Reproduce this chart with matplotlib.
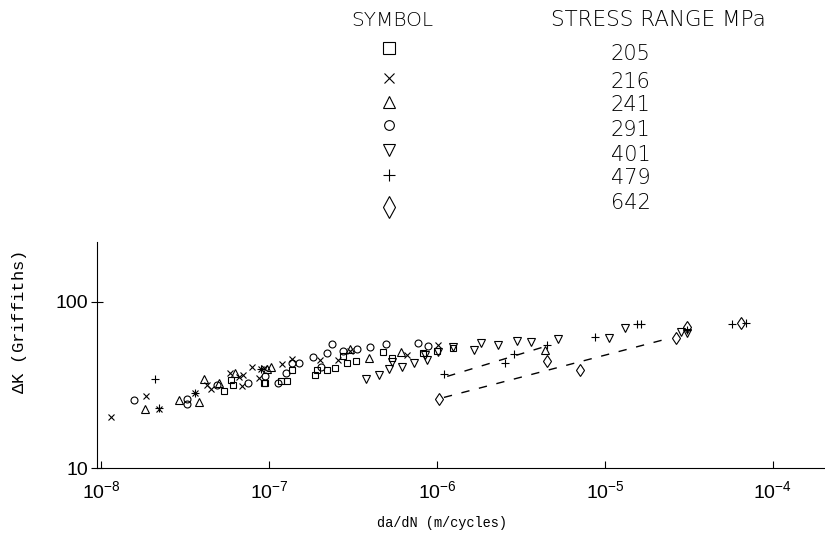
import matplotlib
matplotlib.use("Agg")
import matplotlib.pyplot as plt

plt.rcParams['mathtext.fontset'] = 'custom'
plt.rcParams['mathtext.rm'] = 'Liberation Sans'
plt.rcParams['mathtext.default'] = 'regular'

# stress range (MPa) and the symbol used for it
stress = ['205', '216', '241', '291', '401', '479', '642']
markers = ['s', 'x', '^', 'o', 'v', '+', 'd']

# da/dN (m/cycle), delta K (Griffiths)
dadn_205 = [5.4e-8, 5.94e-8, 6.1e-8, 9.3e-8, 9.5e-8, 1.18e-7, 1.28e-7, 1.37e-7, 1.93e-7,
            1.88e-7, 2.21e-7, 2.47e-7, 2.91e-7, 3.30e-7, 2.76e-7, 4.77e-7, 5.40e-7,
            8.26e-7, 1.0e-6, 1.25e-6]
dk_205 = [28.9, 33.7, 31.8, 32.7, 32.3, 33.2, 33.2, 38.7, 38.7,
          36.1, 38.7, 39.8, 42.7, 43.9, 47.1, 49.8, 45.8,
          49.1, 50.5, 52.6]

dadn_216 = [1.15e-8, 1.85e-8, 2.21e-8, 3.63e-8, 4.28e-8, 4.52e-8, 5.86e-8, 6.63e-8, 7.0e-8,
            6.9e-8, 7.9e-8, 8.96e-8, 8.7e-8, 9.3e-8, 1.19e-7, 1.37e-7, 2.01e-7, 2.58e-7,
            3.03e-7, 6.63e-7, 1.01e-6]
dk_216 = [20.4, 27.3, 22.8, 28.1, 31.4, 29.7, 37.2, 35.1, 36.1,
          31.0, 40.4, 39.3, 34.6, 39.8, 42.1, 45.1, 44.5, 44.5,
          50.5, 47.7, 54.9]

dadn_241 = [1.83e-8, 2.91e-8, 3.83e-8, 4.1e-8, 5.04e-8, 6.28e-8, 9.7e-8, 1.03e-7,
            3.03e-7, 3.94e-7, 6.1e-7, 4.40e-6]
dk_241 = [22.8, 25.5, 25.1, 34.1, 32.3, 37.2, 39.3, 40.4,
          51.9, 45.8, 49.8, 51.2]

dadn_291 = [1.57e-8, 3.25e-8, 3.25e-8, 4.9e-8, 7.5e-8, 9.5e-8, 1.13e-7, 1.26e-7, 1.37e-7,
            1.51e-7, 1.83e-7, 2.04e-7, 2.21e-7, 2.37e-7, 2.76e-7, 3.34e-7, 3.99e-7,
            4.97e-7, 7.7e-7, 8.84e-7]
dk_291 = [25.5, 26.2, 24.4, 31.4, 32.3, 35.6, 32.7, 37.2, 42.7,
          42.7, 46.4, 40.4, 49.1, 55.6, 50.5, 51.9, 53.4,
          55.6, 56.4, 54.1]

dadn_401 = [3.78e-7, 4.52e-7, 5.18e-7, 5.40e-7, 6.19e-7, 7.3e-7, 8.49e-7, 8.7e-7, 1.01e-6,
            1.25e-6, 1.66e-6, 1.83e-6, 2.31e-6, 2.99e-6, 3.63e-6, 5.25e-6, 1.06e-5,
            1.31e-5, 2.83e-5, 3.07e-5]
dk_401 = [34.1, 36.1, 39.3, 43.3, 40.4, 42.7, 47.7, 44.5, 49.8,
          53.4, 51.2, 56.4, 54.9, 58.0, 57.2, 59.7, 60.5,
          69.5, 65.8, 64.9]

dadn_479 = [2.1e-8, 2.21e-8, 3.63e-8, 8.96e-8, 1.10e-6, 2.54e-6, 2.87e-6, 4.52e-6, 8.7e-6,
            1.55e-5, 1.64e-5, 3.07e-5, 5.7e-5, 6.9e-5]
dk_479 = [34.1, 23.1, 28.1, 39.3, 36.6, 42.7, 48.4, 54.9, 61.4,
          73.6, 73.6, 67.6, 73.6, 74.6]

dadn_642 = [1.03e-6, 4.52e-6, 7.1e-6, 2.65e-5, 3.07e-5, 6.45e-5]
dk_642 = [26.2, 43.9, 38.7, 60.5, 70.5, 74.6]

# dashed trend lines for the two highest stress ranges
fit_479_x = [1.15e-6, 4.28e-6]
fit_479_y = [35.6, 53.4]
fit_642_x = [1.10e-6, 2.44e-5]
fit_642_y = [26.6, 60.5]

series_x = [dadn_205, dadn_216, dadn_241, dadn_291, dadn_401, dadn_479, dadn_642]
series_y = [dk_205, dk_216, dk_241, dk_291, dk_401, dk_479, dk_642]
data_ms = [5, 5, 6, 5, 6, 6, 6.5]
leg_ms = [8, 7, 9, 7, 9, 8, 11]

fig = plt.figure(figsize=(8.25, 5.5), dpi=100)
ax = fig.add_axes([0.1176, 0.149, 0.8824, 0.411])

for xs, ys, m, ms in zip(series_x, series_y, markers, data_ms):
    ax.plot(xs, ys, linestyle='', marker=m, ms=ms, mfc='none', mec='black',
            mew=0.8, color='black')

ax.plot(fit_479_x, fit_479_y, color='black', lw=1, dashes=(6, 7))
ax.plot(fit_642_x, fit_642_y, color='black', lw=1, dashes=(6, 7))

ax.set_xscale('log')
ax.set_yscale('log')
ax.set_xlim(10 ** -8.024, 10 ** -3.69)
ax.set_ylim(10, 229)
ax.spines['top'].set_visible(False)
ax.spines['right'].set_visible(False)
ax.minorticks_off()
ax.set_xticks([1e-8, 1e-7, 1e-6, 1e-5, 1e-4])
ax.set_xticklabels([r'$10^{-8}$', r'$10^{-7}$', r'$10^{-6}$', r'$10^{-5}$', r'$10^{-4}$'],
                   fontsize=14, fontfamily='Liberation Sans')
ax.set_yticks([10, 100])
ax.set_yticklabels(['10', '100'], fontsize=14, fontfamily='Liberation Sans')
ax.tick_params(axis='x', direction='in', length=5, width=0.8, pad=9)
ax.tick_params(axis='y', direction='inout', length=9, width=0.8, pad=2)

fig.text(0.024, 0.4145, r'$\Delta$K (Griffiths)', rotation=90, ha='center', va='center',
         fontsize=12.3, fontfamily='Liberation Mono')
fig.text(0.536, 0.05, 'da/dN (m/cycles)', ha='center', va='center',
         fontsize=9.8, fontfamily='Liberation Mono')

# legend table at the top
leg = fig.add_axes([0, 0, 1, 1])
leg.set_xlim(0, 825)
leg.set_ylim(550, 0)
leg.axis('off')
leg.text(392, 20, 'SYMBOL', ha='center', va='center', fontsize=14.5,
         fontfamily='DejaVu Sans', fontweight='light')
leg.text(658, 20, 'STRESS RANGE MPa', ha='center', va='center', fontsize=15.5,
         fontfamily='DejaVu Sans', fontweight='light')
sym_y = [48, 78, 102, 125, 150, 175, 207]
txt_y = [54, 82, 105, 130, 155, 178, 203]
for lab, m, ms, sy, ty in zip(stress, markers, leg_ms, sym_y, txt_y):
    leg.plot([389], [sy], marker=m, ms=ms, mfc='none', mec='black', mew=0.8)
    leg.text(611, ty, lab, ha='left', va='center', fontsize=15,
             fontfamily='DejaVu Sans', fontweight='light')

fig.savefig('out.png', dpi=100)
